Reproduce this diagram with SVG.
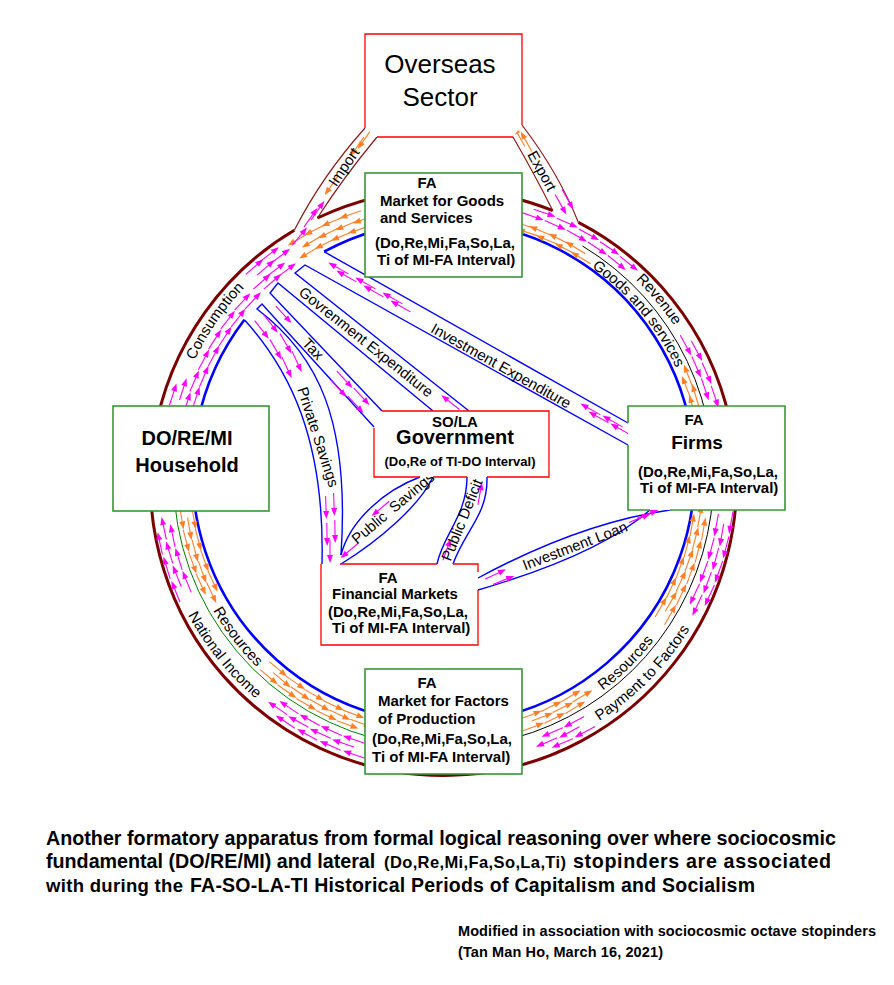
<svg xmlns="http://www.w3.org/2000/svg" width="894" height="985" viewBox="0 0 894 985">
<style>
text{font-family:"Liberation Sans",Arial,sans-serif;fill:#000}
.b{font-weight:bold}
.l{font-size:15px}
.bx{font-size:15px;font-weight:bold}
.bxr{fill:#fff;stroke:none}
.rl{fill:none;stroke:#ff0000;stroke-width:1.3}
.bxg{fill:#fff;stroke:#339933;stroke-width:1.6}
.ch{fill:none;stroke:#0000ff;stroke-width:1.4}
.brn{fill:none;stroke:#7b0000;stroke-width:3}
.ie{fill:none;stroke:#8b1a1a;stroke-width:1.2}
.blu{fill:none;stroke:#0000ff;stroke-width:2.6}
.mk{fill:none;stroke:#000;stroke-width:1}
.mg{fill:none;stroke:#008000;stroke-width:1}
.ms{stroke:#ff00ff;stroke-width:1.1;fill:none}
.mh{fill:#ff00ff}
.os{stroke:#ff7f27;stroke-width:1.1;fill:none}
.oh{fill:#ff7f27}
</style>
<defs>
<g id="am"><path class="ms" d="M-12,0H5"/><path class="mh" d="M11,0L3,-3L3,3Z"/></g>
<g id="amL"><path class="ms" d="M12,0H-5"/><path class="mh" d="M-11,0L-3,-3L-3,3Z"/></g>
<g id="ao"><path class="os" d="M-12,0H5"/><path class="oh" d="M11,0L3,-3L3,3Z"/></g>
<g id="aoL"><path class="os" d="M12,0H-5"/><path class="oh" d="M-11,0L-3,-3L-3,3Z"/></g>
<g id="cUo"><use href="#am" x="0" y="-276"/><use href="#am" x="10" y="-283"/></g>
<g id="cUi"><use href="#aoL" x="4" y="-259"/><use href="#aoL" x="-6" y="-265"/></g>
<g id="cLo"><use href="#am" x="0" y="-277"/><use href="#am" x="9" y="-284"/><use href="#am" x="-5" y="-291"/></g>
<g id="cLi"><use href="#aoL" x="3" y="-253"/><use href="#aoL" x="-7" y="-259"/><use href="#aoL" x="5" y="-265"/></g>
<g id="cC4"><use href="#am" x="0" y="-260"/><use href="#am" x="-8" y="-267"/><use href="#am" x="4" y="-275"/><use href="#am" x="-4" y="-283"/></g>
<g id="cC2"><use href="#am" x="0" y="-260"/><use href="#am" x="-8" y="-267"/></g>
<g id="cJo"><use href="#aoL" x="0" y="-262"/><use href="#aoL" x="8" y="-270"/><use href="#aoL" x="-3" y="-279"/></g>
<path id="pRev" d="M603.4,252.5 A277,277 0 0 1 694.5,362.6"/>
<path id="pGS" d="M552.1,244.6 A256,256 0 0 1 691.7,411.0"/>
<path id="pPay" d="M542.3,749.1 A289,289 0 0 0 716.8,571.6"/>
<path id="pResR" d="M534.5,727.5 A266,266 0 0 0 691.8,572.8"/>
<path id="pNat" d="M162.1,547.7 A290,290 0 0 0 316.4,738.2"/>
<path id="pResL" d="M184,536 A266,266 0 0 0 321.5,713.9"/>
<path id="pCon" d="M172.2,432.6 A275,275 0 0 1 303.5,240.8"/>
</defs>

<g id="connectors">
<g id="ring">
<path class="brn" d="M578.4,222.4 A293,293 0 1 1 294.3,230.3"/>
<path class="brn" d="M317.4,218 A293,293 0 0 1 552.8,210.7"/>
<path class="blu" d="M324.1,251.7 A251,251 0 1 1 244.4,319.7"/>
<path class="mk" d="M582.6,246.1 A270,270 0 0 1 513.4,738.3"/>
<path class="mg" d="M373.6,738.3 A270,270 0 0 1 174.5,454"/>
</g>
<g id="import-export">
<path class="ie" d="M365,128 Q322,176 294.3,230.3"/>
<path class="ie" d="M377,137 Q343,178 317.4,218"/>
<path class="ie" d="M513,137 Q535,175 552.8,210.7"/>
<path class="ie" d="M522,125 Q558,172 578.4,222.4"/>
</g>
<g id="channels">
<path class="ch" d="M324.1,251.7 L628,423"/>
<path class="ch" d="M628,445 L305,265 L295,273 L469,411"/>
<path class="ch" d="M433,411 L278,283 L270,293 L382,411"/>
<path class="ch" d="M374,427 L262,304 L257,309 C318,355 350,420 341,555"/>
<path class="ch" d="M244.4,319.7 C290,370 325,440 322,564"/>
<path class="ch" d="M420,477 C385,490 350,520 341,555"/>
<path class="ch" d="M433,477 C420,505 380,540 341,564"/>
<path class="ch" d="M437,564 C443,535 467,515 467,477"/>
<path class="ch" d="M453,564 C465,530 488,515 487,477"/>
<path class="ch" d="M478,578 C530,550 600,520 670,510"/>
<path class="ch" d="M478,590 C540,572 610,545 650,510"/>
</g>
</g>

<g id="arrows">
<g transform="translate(443.5 477.5)">
<use href="#cUo" transform="rotate(19)"/><use href="#cUo" transform="rotate(24)"/><use href="#cUo" transform="rotate(29)"/><use href="#cUo" transform="rotate(34)"/><use href="#cUo" transform="rotate(39)"/><use href="#cUo" transform="rotate(61.5)"/><use href="#cUo" transform="rotate(66.5)"/><use href="#cUo" transform="rotate(71.5)"/>
<use href="#cUi" transform="rotate(18)"/><use href="#cUi" transform="rotate(22.5)"/><use href="#cUi" transform="rotate(27)"/><use href="#cUi" transform="rotate(31)"/><use href="#cUi" transform="rotate(68.5)"/><use href="#cUi" transform="rotate(73)"/>
<use href="#cLo" transform="rotate(100)"/><use href="#cLo" transform="rotate(105)"/><use href="#cLo" transform="rotate(110)"/><use href="#cLo" transform="rotate(115)"/><use href="#cLo" transform="rotate(152)"/><use href="#cLo" transform="rotate(157)"/>
<use href="#cLo" transform="rotate(199)"/><use href="#cLo" transform="rotate(204)"/><use href="#cLo" transform="rotate(209)"/><use href="#cLo" transform="rotate(214)"/><use href="#cLo" transform="rotate(248)"/><use href="#cLo" transform="rotate(253)"/><use href="#cLo" transform="rotate(258)"/>
<use href="#cLi" transform="rotate(100)"/><use href="#cLi" transform="rotate(105)"/><use href="#cLi" transform="rotate(110)"/><use href="#cLi" transform="rotate(115)"/><use href="#cLi" transform="rotate(120)"/><use href="#cLi" transform="rotate(149)"/><use href="#cLi" transform="rotate(154)"/><use href="#cLi" transform="rotate(159)"/>
<use href="#cLi" transform="rotate(200)"/><use href="#cLi" transform="rotate(205)"/><use href="#cLi" transform="rotate(210)"/><use href="#cLi" transform="rotate(215)"/><use href="#cLi" transform="rotate(220)"/><use href="#cLi" transform="rotate(245)"/><use href="#cLi" transform="rotate(250)"/><use href="#cLi" transform="rotate(255)"/><use href="#cLi" transform="rotate(260)"/>
<use href="#cC4" transform="rotate(-72)"/><use href="#cC4" transform="rotate(-41)"/><use href="#cC4" transform="rotate(-37)"/>
<use href="#cC2" transform="rotate(-67)"/><use href="#cC2" transform="rotate(-62)"/><use href="#cC2" transform="rotate(-57)"/><use href="#cC2" transform="rotate(-52)"/><use href="#cC2" transform="rotate(-47)"/>
<use href="#cJo" transform="rotate(-19)"/><use href="#cJo" transform="rotate(-23)"/><use href="#cJo" transform="rotate(-27)"/><use href="#cJo" transform="rotate(-31)"/>
</g>
<use href="#ao" transform="translate(364 140) rotate(125)"/><use href="#ao" transform="translate(357 147) rotate(125)"/><use href="#ao" transform="translate(331 186) rotate(125)"/>
<use href="#am" transform="translate(318 210) rotate(-55)"/><use href="#am" transform="translate(311 217) rotate(-55)"/><use href="#am" transform="translate(300 236) rotate(-50)"/>
<use href="#ao" transform="translate(519 136) rotate(240.7)"/><use href="#ao" transform="translate(526 141) rotate(240.7)"/>
<use href="#am" transform="translate(561 205) rotate(60.7)"/><use href="#am" transform="translate(568 200) rotate(60.7)"/>
<use href="#am" transform="translate(338 268) rotate(209.3)"/><use href="#am" transform="translate(346 276) rotate(209.3)"/><use href="#am" transform="translate(365 283) rotate(209.3)"/><use href="#am" transform="translate(373 291) rotate(209.3)"/><use href="#am" transform="translate(392 298) rotate(209.3)"/><use href="#am" transform="translate(400 306) rotate(209.3)"/>
<use href="#am" transform="translate(590 409) rotate(209.3)"/><use href="#am" transform="translate(598 417) rotate(209.3)"/><use href="#am" transform="translate(612 421) rotate(209.3)"/><use href="#am" transform="translate(620 429) rotate(209.3)"/>
<use href="#am" transform="translate(450 402) rotate(218.6)"/>
<use href="#am" transform="translate(284 315) rotate(47)"/><use href="#am" transform="translate(345 380) rotate(47)"/><use href="#am" transform="translate(339 389) rotate(47)"/><use href="#am" transform="translate(362 397) rotate(47)"/><use href="#am" transform="translate(356 405) rotate(47)"/>
<use href="#am" transform="translate(262 330) rotate(52)"/><use href="#am" transform="translate(271 324) rotate(52)"/><use href="#am" transform="translate(276 350) rotate(60)"/><use href="#am" transform="translate(286 344) rotate(60)"/><use href="#am" transform="translate(287 368) rotate(65)"/><use href="#am" transform="translate(297 362) rotate(65)"/>
<use href="#am" transform="translate(326 508) rotate(88)"/><use href="#am" transform="translate(334 505) rotate(88)"/><use href="#am" transform="translate(327 535) rotate(89)"/><use href="#am" transform="translate(335 532) rotate(89)"/><use href="#am" transform="translate(330 552) rotate(90)"/>
<use href="#am" transform="translate(349 551) rotate(140)"/><use href="#am" transform="translate(380 509) rotate(140)"/>
<use href="#am" transform="translate(447 549) rotate(-70)"/><use href="#am" transform="translate(480 493) rotate(-80)"/>
<use href="#am" transform="translate(496 574) rotate(-25)"/><use href="#am" transform="translate(504 580) rotate(-22)"/><use href="#am" transform="translate(648 514) rotate(-22)"/><use href="#am" transform="translate(640 518) rotate(-22)"/>
</g>

<g id="labels" class="l">
<text><textPath href="#pRev" startOffset="50%" text-anchor="middle">Revenue</textPath></text>
<text><textPath href="#pGS" startOffset="50%" text-anchor="middle">Goods and services</textPath></text>
<text><textPath href="#pPay" startOffset="50%" text-anchor="middle">Payment to Factors</textPath></text>
<text><textPath href="#pResR" startOffset="50%" text-anchor="middle">Resources</textPath></text>
<text><textPath href="#pNat" startOffset="50%" text-anchor="middle">National Income</textPath></text>
<text><textPath href="#pResL" startOffset="50%" text-anchor="middle">Resources</textPath></text>
<text><textPath href="#pCon" startOffset="50%" text-anchor="middle">Consumption</textPath></text>
<text transform="translate(344 167) rotate(-56)" y="5" text-anchor="middle">Import</text>
<text transform="translate(542 171) rotate(61)" y="5" text-anchor="middle">Export</text>
<text transform="translate(501 366) rotate(29.3)" y="5" text-anchor="middle">Investment Expenditure</text>
<text transform="translate(366 342) rotate(38.6)" y="5" text-anchor="middle">Govrenment Expenditure</text>
<text transform="translate(313 349) rotate(46.5)" y="5" text-anchor="middle">Tax</text>
<text transform="translate(318 437) rotate(72)" y="5" text-anchor="middle">Private Savings</text>
<text transform="translate(393 508) rotate(-40)" y="5" text-anchor="middle" word-spacing="4">Public Savings</text>
<text transform="translate(462 520) rotate(-68)" y="5" text-anchor="middle">Public Deficit</text>
<text transform="translate(575 546) rotate(-21)" y="5" text-anchor="middle">Investment Loan</text>
</g>

<g id="overseas">
<path class="bxr" d="M365,34H522V125L513,137H377L365,128Z"/>
<path class="rl" d="M365,128V34H522V125M513,137H377"/>
<text x="440" y="73" font-size="26" text-anchor="middle">Overseas</text>
<text x="440" y="106" font-size="26" text-anchor="middle">Sector</text>
</g>
<g id="goods-market">
<rect class="bxg" x="365" y="173" width="157" height="104"/>
<text class="bx" x="427" y="188" text-anchor="middle">FA</text>
<text class="bx" x="380" y="206">Market for Goods</text>
<text class="bx" x="380" y="223">and Services</text>
<text class="bx" x="375" y="248">(Do,Re,Mi,Fa,So,La,</text>
<text class="bx" x="377" y="265">Ti of MI-FA Interval)</text>
</g>
<g id="household">
<rect class="bxg" x="113" y="406" width="156" height="105"/>
<text class="b" x="187" y="445" font-size="20" text-anchor="middle">DO/RE/MI</text>
<text class="b" x="187" y="472" font-size="20" text-anchor="middle">Household</text>
</g>
<g id="firms">
<rect class="bxr" x="628" y="406" width="157" height="104"/>
<path d="M628,423V406H785V510H670M650,510H628V445" fill="none" stroke="#339933" stroke-width="1.6"/>
<text class="bx" x="694" y="425" text-anchor="middle">FA</text>
<text class="b" x="697" y="449" font-size="19" text-anchor="middle">Firms</text>
<text class="bx" x="638" y="477">(Do,Re,Mi,Fa,So,La,</text>
<text class="bx" x="640" y="493">Ti of MI-FA Interval)</text>
</g>
<g id="government">
<path class="bxr" d="M382,411H549V477H374V428Z"/>
<path class="rl" d="M382,411H549V477H487M467,477H433M420,477H374V428"/>
<text class="bx" x="455" y="427" text-anchor="middle">SO/LA</text>
<text class="b" x="455" y="444" font-size="20" text-anchor="middle">Government</text>
<text class="b" x="460" y="466" font-size="13" text-anchor="middle">(Do,Re of TI-DO Interval)</text>
</g>
<g id="financial-markets">
<rect class="bxr" x="321" y="564" width="157" height="81"/>
<path class="rl" d="M340,564H437M453,564H478V572M478,590V645H321V564"/>
<text class="bx" x="388" y="583" text-anchor="middle">FA</text>
<text class="bx" x="395" y="599" text-anchor="middle">Financial Markets</text>
<text class="bx" x="328" y="617">(Do,Re,Mi,Fa,So,La,</text>
<text class="bx" x="332" y="633">Ti of MI-FA Interval)</text>
</g>
<g id="factors-market">
<rect class="bxg" x="365" y="669" width="157" height="105"/>
<text class="bx" x="427" y="688" text-anchor="middle">FA</text>
<text class="bx" x="378" y="706">Market for Factors</text>
<text class="bx" x="378" y="724">of Production</text>
<text class="bx" x="372" y="744">(Do,Re,Mi,Fa,So,La,</text>
<text class="bx" x="372" y="762">Ti of MI-FA Interval)</text>
</g>

<g id="caption" class="b">
<text x="46" y="845" font-size="19.7" textLength="790">Another formatory apparatus from formal logical reasoning over where sociocosmic</text>
<text x="46" y="868" font-size="19.7">fundamental (DO/RE/MI) and lateral</text>
<text x="384" y="868" font-size="16.5" textLength="182">(Do,Re,Mi,Fa,So,La,Ti)</text>
<text x="573" y="868" font-size="19.7" textLength="258">stopinders are associated</text>
<text x="46" y="892" font-size="18.5" textLength="137">with during the</text>
<text x="190" y="892" font-size="19.5" textLength="565">FA-SO-LA-TI Historical Periods of Capitalism and Socialism</text>
<text x="458" y="936" font-size="14.5" textLength="418">Modified in association with sociocosmic octave stopinders</text>
<text x="458" y="957" font-size="14.5" textLength="205">(Tan Man Ho, March 16, 2021)</text>
</g>
</svg>
